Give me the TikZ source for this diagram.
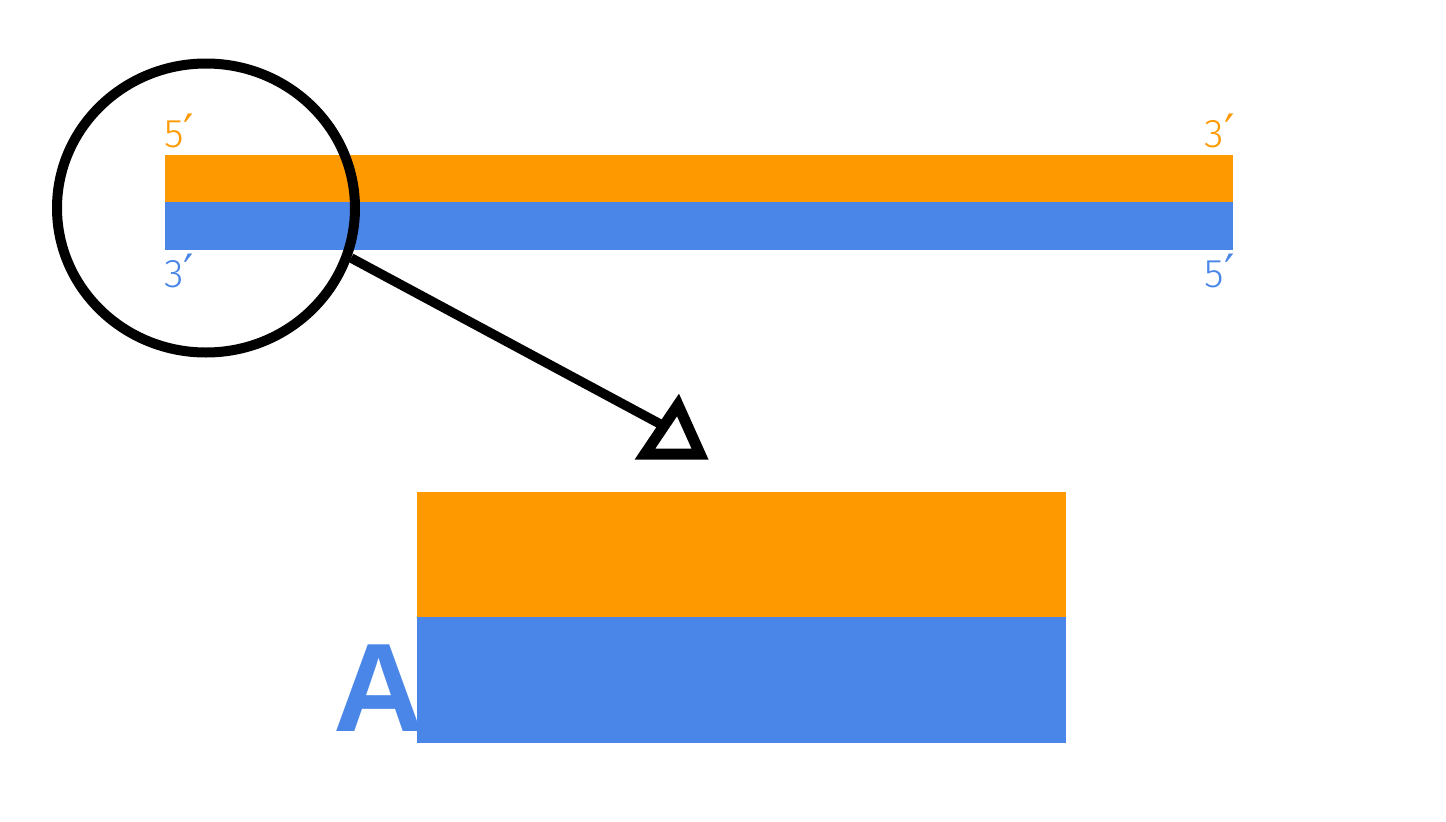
\documentclass[tikz,border=0pt]{standalone}
\usepackage{fontspec}
\setsansfont{Liberation Sans}
\newfontfamily\thinfont{Fira Sans Light}
\newfontfamily\primefont{DejaVu Sans}
\usepackage{tikz}
\usetikzlibrary{arrows,positioning,shapes.geometric}

\definecolor{strandorange}{RGB}{255,153,0}
\definecolor{strandblue}{RGB}{74,134,232}

\newcommand{\pr}{{\primefont\fontsize{46}{46}\selectfont ′}}

\tikzset{
  strand/.style={inner sep=0pt, outer sep=0pt, draw=none},
  endlabel/.style={inner sep=0pt, font=\thinfont\fontsize{40}{40}\selectfont}
}

\begin{document}
\begin{tikzpicture}[x=1pt,y=-1pt]
\useasboundingbox (0,0) rectangle (1446,822);

% strands, whole length
\node (O) [strand, fill=strandorange, minimum width=1068pt, minimum height=47pt] at (699,178.5) {};
\node (B) [strand, fill=strandblue, minimum width=1068pt, minimum height=48pt] at (699,226) {};

\node (P) [endlabel, text=strandorange, anchor=base west] at (164,147) {5\pr};
\node (Q) [endlabel, text=strandorange, anchor=base east] at (1235,147) {3\pr};
\node (R) [endlabel, text=strandblue, anchor=base west] at (164,287) {3\pr};
\node (S) [endlabel, text=strandblue, anchor=base east] at (1235,287) {5\pr};

% magnifier
\node (C) [ellipse, draw, line width=10pt, inner sep=0pt, minimum width=298pt, minimum height=289pt] at (206,208) {};
\coordinate (E) at (662,425);
\draw[line width=9.5pt] (C.-19) -- (E);
\draw[line width=11pt, line join=miter] (678,405) -- (700,454) -- (645,454) -- cycle;

% close-up
\node (A) [inner sep=0pt, anchor=base west, text=strandblue, font=\sffamily\bfseries\fontsize{126}{126}\selectfont] at (333,731) {A};
\node (U) [strand, fill=strandorange, minimum width=649pt, minimum height=125pt] at (741.5,554.5) {};
\node (V) [strand, fill=strandblue, minimum width=649pt, minimum height=126pt] at (741.5,680) {};

\end{tikzpicture}
\end{document}
